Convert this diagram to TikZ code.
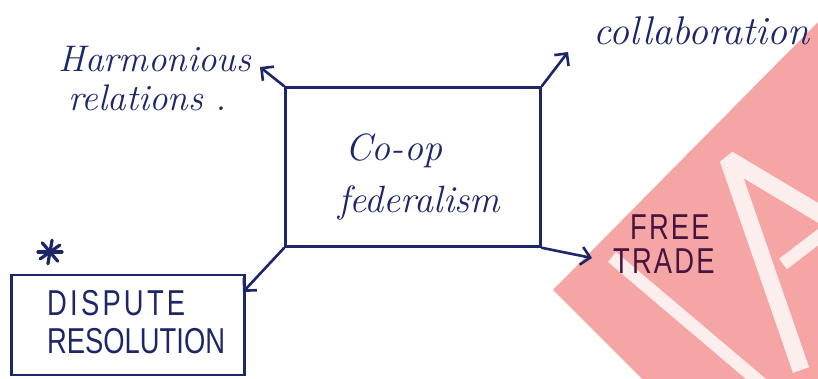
\documentclass[tikz,border=0pt]{standalone}
\usepackage{fontspec}
\newfontfamily\capsfont{Liberation Sans}[FakeStretch=0.76]
\usetikzlibrary{arrows.meta}
\definecolor{ink}{RGB}{28,38,105}
\definecolor{inkp}{RGB}{70,20,62}
\definecolor{wm}{RGB}{246,165,165}
\definecolor{wmw}{RGB}{253,238,238}
\begin{document}
\begin{tikzpicture}[x=1pt,y=-1pt,
  inkline/.style={draw=ink, line width=2.6pt, line cap=round, line join=round},
  arr/.style={inkline, -{Straight Barb[length=9pt,width=18pt]}},
  hand/.style={text=ink, font=\fontsize{37}{37}\selectfont\itshape, inner sep=0pt},
  capstext/.style={text=ink, font=\capsfont\fontsize{36}{36}\selectfont, inner sep=0pt},
  boxed/.style={draw=ink, line width=2.6pt}
]
\useasboundingbox (0,0) rectangle (818,379);
% watermark
\begin{scope}
  \clip (0,0) rectangle (818,379);
  \fill[wm] (818,22) -- (553,290) -- (642,379) -- (818,379) -- cycle;
  \fill[wmw] (616,252) -- (766,379) -- (746,379) -- (608,262) -- cycle;
  \draw[wmw, line width=17pt, line join=bevel] (840,226) -- (728,159) -- (801,370);
  \draw[wmw, line width=13pt] (783,264) -- (830,228);
\end{scope}
% central box
\node[boxed, minimum width=255pt, minimum height=159pt] (coop) at (413,167) {};
\node[hand, font=\fontsize{38}{38}\selectfont\itshape, anchor=base west] (coop1) at (345,161) {Co-op};
\node[hand, font=\fontsize{38}{38}\selectfont\itshape, anchor=base west] (coop2) at (338,212) {federalism};
% dispute box
\node[boxed, minimum width=233pt, minimum height=100pt] (dispute) at (128,325) {};
\node[capstext, font=\capsfont\fontsize{36}{36}\selectfont\addfontfeature{LetterSpace=9}, anchor=base west] (disp1) at (47,315) {DISPUTE};
\node[capstext, anchor=base west] (disp2) at (47,353) {RESOLUTION};
% labels
\node[hand, anchor=base west] (harm1) at (58,72) {Harmonious};
\node[hand, anchor=base west] (harm2) at (68,111) {relations .};
\node[hand, font=\fontsize{40}{40}\selectfont\itshape, anchor=base west] (coll) at (593,45) {collaboration};
\node[capstext, text=inkp, font=\capsfont\fontsize{36}{36}\selectfont\addfontfeature{LetterSpace=6}, anchor=base west] (free1) at (630,240) {FREE};
\node[capstext, text=inkp, font=\capsfont\fontsize{36}{36}\selectfont\addfontfeature{LetterSpace=6}, anchor=base west] (free2) at (613,273) {TRADE};
\coordinate (star) at (50,252);
\foreach \a in {0,50,100,145} \draw[inkline, line width=3.2pt] (star) ++(\a:12) -- ++(\a+180:24);
% arrow tips
\coordinate (harmtip) at (260,67);
\coordinate (colltip) at (568,52);
\coordinate (freetip) at (592,258);
\coordinate (disptip) at (243,292);
% connectors
\draw[arr] (coop.north west) -- (harmtip);
\draw[arr] (coop.north east) -- (colltip);
\draw[arr] (coop.south east) -- (freetip);
\draw[arr] (coop.south west) -- (disptip);
\end{tikzpicture}
\end{document}
